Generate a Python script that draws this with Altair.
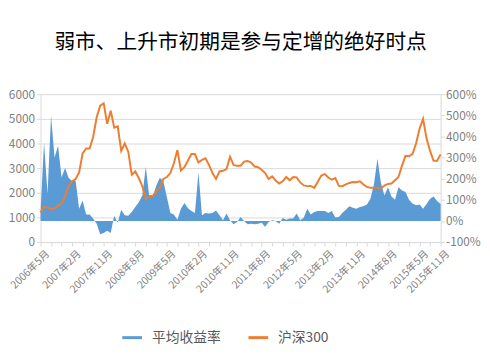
import altair as alt
import pandas as pd

# 月份索引：2006年5月 = 0 ... 2015年11月 = 114
n_months = 115

# 平均收益率 (%)，右轴
avg_return = [
    40, 372, 129, 498, 301, 356, 207, 251, 204, 188,
    191, 58, 97, 30, 31, 11, -13, -63, -57, -47,
    -57, 25, -9, 53, 27, 24, 42, 66, 89, 121,
    257, 113, 116, 168, 204, 188, 113, 38, 31, 6,
    58, 85, 60, 47, 38, 231, 27, 38, 35, 38,
    50, 27, 3, 35, 3, -16, -5, 19, 0, -16,
    -13, -16, -13, -9, -28, -5, 3, 0, -13, 14,
    6, 11, 11, 35, 3, 15, 58, 31, 42, 47,
    47, 47, 38, 47, 16, 19, 38, 53, 69, 63,
    58, 66, 69, 78, 105, 173, 294, 180, 121, 160,
    116, 100, 160, 144, 137, 100, 82, 74, 78, 58,
    80, 105, 116, 95, 80,
]

# 沪深300，左轴
hs300 = [
    1200, 1440, 1400, 1333, 1373, 1467, 1560, 1867, 2267, 2467,
    2560, 2827, 3600, 3800, 3800, 4267, 5067, 5533, 5627, 4800,
    5333, 4640, 4693, 3700, 4000, 3667, 2733, 2867, 2600, 2267,
    1733, 1867, 1867, 2067, 2200, 2560, 2640, 2800, 3200, 3733,
    2907, 3040, 3307, 3573, 3573, 3230, 3333, 3400, 3133, 2800,
    2560, 2867, 2893, 2960, 3467, 3133, 3093, 3093, 3267, 3293,
    3227, 3067, 3040, 2933, 2800, 2560, 2667, 2500, 2380, 2467,
    2640, 2507, 2640, 2627, 2420, 2300, 2270, 2280, 2200, 2450,
    2700, 2760, 2620, 2530, 2600, 2280, 2270, 2340, 2400, 2440,
    2430, 2467, 2333, 2240, 2200, 2200, 2200, 2173, 2293, 2360,
    2373, 2507, 2640, 3100, 3500, 3480, 3580, 4000, 4600, 5000,
    4200, 3700, 3300, 3300, 3560,
]

label_positions = [0, 9, 18, 27, 36, 45, 54, 63, 72, 81, 90, 99, 108, 114]
tick_labels = ["2006年5月", "2007年2月", "2007年11月", "2008年8月", "2009年5月",
               "2010年2月", "2010年11月", "2011年8月", "2012年5月", "2013年2月",
               "2013年11月", "2014年8月", "2015年5月", "2015年11月"]
series_names = ["平均收益率", "沪深300"]
series_colors = ["#5B9BD5", "#ED7D31"]

df = pd.DataFrame({
    "idx": list(range(n_months)),
    "ret": avg_return,
    "hs": hs300,
})

pos_js = "[" + ",".join(str(p) for p in label_positions) + "]"
lab_js = "[" + ",".join("'" + t + "'" for t in tick_labels) + "]"
label_expr = f"indexof({pos_js}, datum.value) >= 0 ? {lab_js}[indexof({pos_js}, datum.value)] : ''"

FONT = "Noto Sans CJK SC"
GRAY = "#7f7f7f"

x_enc = alt.X(
    "idx:Q",
    scale=alt.Scale(domain=[0, n_months - 1], nice=False, zero=False),
    axis=alt.Axis(
        title=None,
        values=list(range(0, n_months, 3)),
        labelExpr=label_expr,
        labelAngle=-45,
        labelAlign="right",
        labelBaseline="middle",
        labelOverlap=False,
        labelPadding=6,
        labelOffset=7,
        labelFontSize=10.5,
        tickSize=4,
        grid=False,
        domainColor="#d9d9d9",
        tickColor="#d9d9d9",
    ),
)

color_scale = alt.Scale(domain=series_names, range=series_colors)
legend = alt.Legend(
    title=None,
    orient="none",
    direction="horizontal",
    legendX=83,
    legendY=237,
    symbolType="M-1,-0.15H1V0.15H-1Z",
    symbolSize=400,
    symbolStrokeWidth=0,
    symbolOpacity=1,
    labelFontSize=14,
    labelColor="#595959",
    labelFont=FONT,
    labelOffset=10,
    columnPadding=28,
)

area = alt.Chart(df).mark_area(opacity=1).encode(
    x=x_enc,
    y=alt.Y(
        "ret:Q",
        scale=alt.Scale(domain=[-100, 600], nice=False),
        axis=alt.Axis(
            title=None,
            orient="right",
            values=list(range(-100, 601, 100)),
            labelExpr="datum.value + '%'",
            grid=False,
            tickSize=4,
            labelPadding=1,
            domainColor="#d9d9d9",
            tickColor="#d9d9d9",
        ),
    ),
    color=alt.Color("s:N", scale=color_scale, legend=legend),
).transform_calculate(s="'平均收益率'")

line = alt.Chart(df).mark_line(strokeWidth=2).encode(
    x=x_enc,
    y=alt.Y(
        "hs:Q",
        scale=alt.Scale(domain=[0, 6000], nice=False),
        axis=alt.Axis(
            title=None,
            orient="left",
            format="d",
            values=list(range(0, 6001, 1000)),
            grid=True,
            gridColor="#d9d9d9",
            tickSize=4,
            domainColor="#d9d9d9",
            tickColor="#d9d9d9",
        ),
    ),
    color=alt.Color("s:N", scale=color_scale, legend=legend),
).transform_calculate(s="'沪深300'")

chart = alt.layer(area, line).resolve_scale(y="independent").properties(
    width=406,
    height=150,
    autosize=alt.AutoSizeParams(type="none"),
    padding={"left": 33, "top": 85, "right": 42, "bottom": 105},
    title=alt.TitleParams(
        "弱市、上升市初期是参与定增的绝好时点",
        fontSize=21,
        fontWeight="normal",
        font=FONT,
        color="#000000",
        anchor="middle",
        offset=36,
    ),
).configure_view(stroke=None).configure_axis(
    labelFont=FONT,
    labelFontSize=12,
    labelColor=GRAY,
)

chart.save("out.html", embed_options={"renderer": "svg", "actions": False})
